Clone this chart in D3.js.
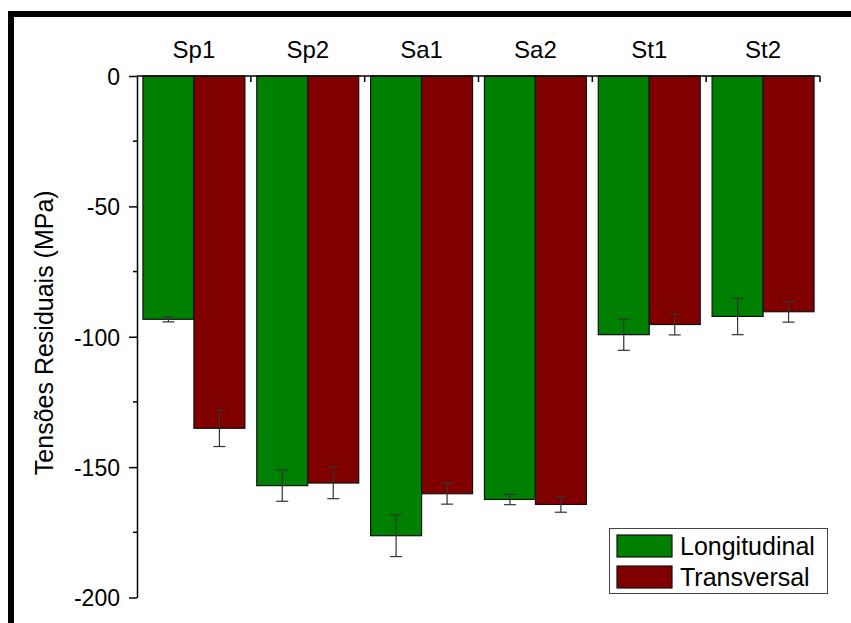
<!DOCTYPE html>
<html><head><meta charset="utf-8">
<script src="https://cdn.jsdelivr.net/npm/d3@7"></script>
<style>body{margin:0;background:#fff}svg{display:block}</style>
</head><body>
<script>
const categories = ["Sp1","Sp2","Sa1","Sa2","St1","St2"];
const seriesNames = ["Longitudinal","Transversal"];
const longitudinal = [-93.3,-157.1,-176.3,-162.4,-99.2,-92.2];
const longitudinalErr = [1,6,8,2,6,7];
const transversal = [-135.1,-156.1,-160.2,-164.3,-95.3,-90.4];
const transversalErr = [7,6,4,3,4,4];
const yTicks = [0,-50,-100,-150,-200];
const yMinorTicks = [-25,-75,-125,-175];
const colors = ["#008000","#800000"];

const W=851,H=623;
const svg=d3.select("body").append("svg").attr("width",W).attr("height",H);
const font="Liberation Sans, Arial, sans-serif";

// frame
svg.append("rect").attr("x",8).attr("y",11).attr("width",W).attr("height",6).attr("fill","#000");
svg.append("rect").attr("x",8).attr("y",11).attr("width",6).attr("height",H).attr("fill","#000");

const x0=137,x1=820,yTop=76,yBot=597.5;
const x=d3.scaleBand().domain(categories).range([x0,x1]).paddingInner(0).paddingOuter(0);
const xs=d3.scaleBand().domain(seriesNames).range([0,x.bandwidth()]).paddingInner(0).paddingOuter(0.1165);
const y=d3.scaleLinear().domain([0,-200]).range([yTop,yBot]);

const data=[];
categories.forEach((c,i)=>{
  data.push({c,s:seriesNames[0],v:longitudinal[i],e:longitudinalErr[i],col:colors[0]});
  data.push({c,s:seriesNames[1],v:transversal[i],e:transversalErr[i],col:colors[1]});
});

svg.selectAll("rect.bar").data(data).enter().append("rect").attr("class","bar")
 .attr("x",d=>x(d.c)+xs(d.s)).attr("width",xs.bandwidth())
 .attr("y",y(0)).attr("height",d=>y(d.v)-y(0))
 .attr("fill",d=>d.col).attr("stroke","#111").attr("stroke-width",1.2);

// error bars
const cx=d=>x(d.c)+xs(d.s)+xs.bandwidth()/2;
const eg=svg.selectAll("g.err").data(data).enter().append("g").attr("class","err")
 .attr("stroke","#333").attr("stroke-width",1.2);
eg.append("line").attr("x1",cx).attr("x2",cx)
 .attr("y1",d=>y(d.v+d.e)).attr("y2",d=>y(d.v-d.e));
eg.append("line").attr("x1",d=>cx(d)-6).attr("x2",d=>cx(d)+6)
 .attr("y1",d=>y(d.v+d.e)).attr("y2",d=>y(d.v+d.e));
eg.append("line").attr("x1",d=>cx(d)-6).attr("x2",d=>cx(d)+6)
 .attr("y1",d=>y(d.v-d.e)).attr("y2",d=>y(d.v-d.e));

// left axis
const yAxis=d3.axisLeft(y).tickValues(yTicks).tickSize(8).tickSizeOuter(0).tickPadding(9).tickFormat(d=>String(d));
const ga=svg.append("g").attr("transform",`translate(${x0},0)`).call(yAxis);
ga.attr("font-family",font).attr("font-size",23);
ga.select(".domain").attr("stroke","#000").attr("stroke-width",1.5);
ga.selectAll(".tick line").attr("stroke","#000").attr("stroke-width",1.5);
ga.selectAll(".tick text").attr("fill","#000").attr("dy","0.36em");
svg.append("g").selectAll("line").data(yMinorTicks).enter().append("line")
 .attr("x1",x0-4).attr("x2",x0).attr("y1",d=>y(d)).attr("y2",d=>y(d)).attr("stroke","#000").attr("stroke-width",1.5);

// top axis
const boundaries=categories.map(c=>x(c)).concat([x1]);
svg.append("line").attr("x1",x0).attr("x2",x1).attr("y1",yTop).attr("y2",yTop).attr("stroke","#000").attr("stroke-width",1.5);
svg.append("g").selectAll("line").data(boundaries.slice(1)).enter().append("line")
 .attr("x1",d=>d).attr("x2",d=>d).attr("y1",yTop).attr("y2",yTop+6).attr("stroke","#000").attr("stroke-width",1.5);
svg.append("g").selectAll("text").data(categories).enter().append("text")
 .attr("x",d=>x(d)+x.bandwidth()/2).attr("y",58).attr("text-anchor","middle")
 .attr("font-family",font).attr("font-size",24).text(d=>d);

// y label
svg.append("text").attr("transform",`translate(53,${(yTop+yBot)/2-4}) rotate(-90)`)
 .attr("text-anchor","middle").attr("font-family",font).attr("font-size",25).text("Tensões Residuais (MPa)");

// legend
const lg=svg.append("g");
lg.append("rect").attr("x",609.5).attr("y",528.5).attr("width",218).attr("height",65).attr("fill","#fff").attr("stroke","#444").attr("stroke-width",1);
seriesNames.forEach((s,i)=>{
  lg.append("rect").attr("x",617).attr("y",535+i*31).attr("width",55).attr("height",22).attr("fill",colors[i]).attr("stroke","#111").attr("stroke-width",1.2);
  lg.append("text").attr("x",680).attr("y",555+i*31).attr("font-family",font).attr("font-size",25).text(s);
});
</script>
</body></html>
